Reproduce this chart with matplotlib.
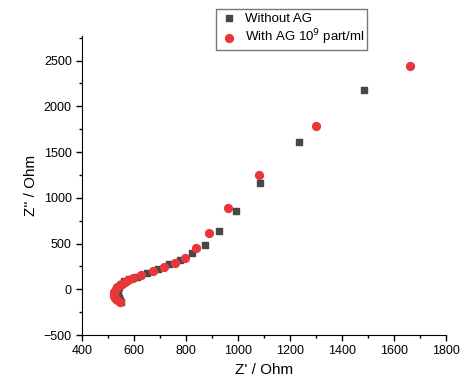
import matplotlib
matplotlib.use("Agg")

import matplotlib.pyplot as plt
from matplotlib.ticker import MultipleLocator

plt.rcParams["font.family"] = ["Liberation Sans", "DejaVu Sans"]

# Sin AG (cuadrados)
zr_sin = [1485, 1235, 1085, 991, 926, 872, 824, 778, 732, 690, 651, 609,
          582, 562, 549, 541, 537, 537, 540, 545, 550]
zi_sin = [2177, 1608, 1166, 856, 641, 488, 394, 324, 273, 219, 182, 138,
          112, 88, 60, 25, -15, -55, -90, -120, -136]

# Con AG 10^9 part/ml (circulos)
zr_con = [1662, 1300, 1081, 961, 889, 838, 796, 756, 715, 672, 628, 597,
          575, 563, 552, 544, 535, 529, 524, 522, 523, 527, 535, 544]
zi_con = [2446, 1783, 1250, 886, 616, 448, 346, 291, 247, 197, 153, 120,
          102, 77, 62, 47, 25, 0, -25, -51, -75, -99, -120, -136]

fig = plt.figure(figsize=(4.64, 3.82), dpi=100)
ax = fig.add_axes([0.177, 0.123, 0.785, 0.783])

ax.scatter(zr_sin, zi_sin, marker="s", s=24, color="#474747", label="Without AG", zorder=2)
ax.scatter(zr_con, zi_con, marker="o", s=32, color="#e8363b", label="With AG 10$^9$ part/ml", zorder=3)

ax.set_xlim(400, 1800)
ax.set_ylim(-500, 2770)
ax.xaxis.set_major_locator(MultipleLocator(200))
ax.xaxis.set_minor_locator(MultipleLocator(100))
ax.yaxis.set_major_locator(MultipleLocator(500))
ax.yaxis.set_minor_locator(MultipleLocator(250))
ax.tick_params(which="major", direction="out", length=4, width=1, labelsize=9)
ax.tick_params(which="minor", direction="out", length=2.5, width=1)

ax.spines["top"].set_visible(False)
ax.spines["right"].set_visible(False)

ax.set_xlabel("Z' / Ohm", fontsize=11)
ax.set_ylabel("Z'' / Ohm", fontsize=11)

ax.legend(loc="upper left", bbox_to_anchor=(0.35, 1.112), fontsize=9.5, frameon=True,
          fancybox=False, edgecolor="#555555", handletextpad=0.4, borderpad=0.25,
          labelspacing=0.2, handlelength=1.5)

fig.savefig("out.png", dpi=100)
